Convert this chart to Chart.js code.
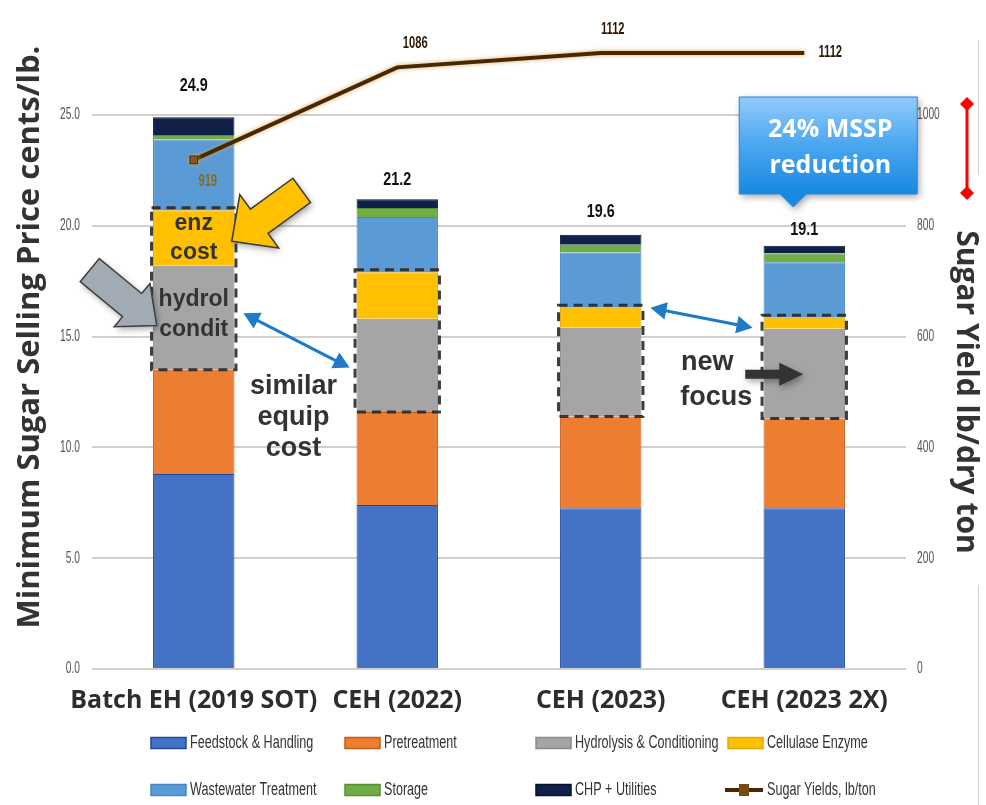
<!DOCTYPE html>
<html>
<head>
<meta charset="utf-8">
<script src="https://cdn.jsdelivr.net/npm/chart.js@4.4.1/dist/chart.umd.min.js"></script>
<style>
  html, body { margin: 0; padding: 0; background: #fff; }
  #wrap { position: relative; width: 986px; height: 805px; }
</style>
</head>
<body>
<div id="wrap"><canvas id="mssp" width="986" height="805"></canvas></div>
<script>
// cost breakdown, cents/lb sugar
const categories = ['Batch EH (2019 SOT)', 'CEH (2022)', 'CEH (2023)', 'CEH (2023 2X)'];
const feedstock = [8.8, 7.4, 7.25, 7.25];
const pretreatment = [4.7, 4.2, 4.15, 4.05];
const hydrolysis = [4.7, 4.2, 4.0, 4.05];
const enzyme = [2.5, 2.1, 0.9, 0.5];
const wastewater = [3.2, 2.5, 2.5, 2.5];
const storage = [0.2, 0.4, 0.35, 0.4];
const chp = [0.8, 0.4, 0.45, 0.35];
// sugar yield, lb/dry ton
const sugarYield = [919, 1086, 1112, 1112];

const SANS = "'Liberation Sans', Arial, sans-serif";
const OPEN = "'Open Sans', 'Liberation Sans', sans-serif";

const barSeries = [
  { label: 'Feedstock & Handling', data: feedstock, fill: '#4472c4', edge: '#23479a' },
  { label: 'Pretreatment', data: pretreatment, fill: '#ed7d31', edge: '#c65b16' },
  { label: 'Hydrolysis & Conditioning', data: hydrolysis, fill: '#a5a5a5', edge: '#8a8a8a' },
  { label: 'Cellulase Enzyme', data: enzyme, fill: '#ffc000', edge: '#e3a900' },
  { label: 'Wastewater Treatment', data: wastewater, fill: '#5b9bd5', edge: '#4485c2' },
  { label: 'Storage', data: storage, fill: '#70ad47', edge: '#559033' },
  { label: 'CHP + Utilities', data: chp, fill: '#0f2149', edge: '#06112b' }
];

const datasets = barSeries.map(s => ({
  type: 'bar',
  label: s.label,
  data: s.data,
  backgroundColor: s.fill,
  borderColor: s.edge,
  borderWidth: 1,
  yAxisID: 'y',
  stack: 'cost',
  order: 1,
  barPercentage: 0.8,
  categoryPercentage: 0.5
}));

datasets.push({
  type: 'line',
  label: 'Sugar Yields, lb/ton',
  data: sugarYield,
  yAxisID: 'y2',
  borderColor: '#4a2700',
  borderWidth: 4,
  pointStyle: 'rect',
  pointRadius: 5.5,
  pointBackgroundColor: '#7b4a10',
  pointBorderColor: '#4a2700',
  pointBorderWidth: 1,
  tension: 0,
  clip: false,
  order: 0
});

// narrow text: regular face squeezed horizontally
function narrowText(ctx, text, x, y, size, weight, color, align, sx) {
  ctx.save();
  ctx.font = (weight || 'normal') + ' ' + size + 'px ' + SANS;
  ctx.fillStyle = color;
  ctx.textBaseline = 'middle';
  ctx.textAlign = align || 'left';
  ctx.translate(x, y);
  ctx.scale(sx || 0.78, 1);
  ctx.fillText(text, 0, 0);
  ctx.restore();
}

function blockArrow(ctx, x1, y1, x2, y2, shaftW, headW, headL, fill, stroke) {
  const ang = Math.atan2(y2 - y1, x2 - x1);
  const len = Math.hypot(x2 - x1, y2 - y1);
  ctx.save();
  ctx.translate(x1, y1);
  ctx.rotate(ang);
  ctx.beginPath();
  ctx.moveTo(0, -shaftW / 2);
  ctx.lineTo(len - headL, -shaftW / 2);
  ctx.lineTo(len - headL, -headW / 2);
  ctx.lineTo(len, 0);
  ctx.lineTo(len - headL, headW / 2);
  ctx.lineTo(len - headL, shaftW / 2);
  ctx.lineTo(0, shaftW / 2);
  ctx.closePath();
  ctx.shadowColor = 'rgba(0,0,0,0.35)';
  ctx.shadowBlur = 6;
  ctx.shadowOffsetX = 2;
  ctx.shadowOffsetY = 3;
  ctx.fillStyle = fill;
  ctx.fill();
  ctx.shadowColor = 'transparent';
  if (stroke) {
    ctx.strokeStyle = stroke;
    ctx.lineWidth = 1.5;
    ctx.stroke();
  }
  ctx.restore();
}

function doubleArrow(ctx, x1, y1, x2, y2, color, head) {
  const ang = Math.atan2(y2 - y1, x2 - x1);
  const len = Math.hypot(x2 - x1, y2 - y1);
  ctx.save();
  ctx.translate(x1, y1);
  ctx.rotate(ang);
  ctx.strokeStyle = color;
  ctx.fillStyle = color;
  ctx.lineWidth = 3;
  ctx.beginPath();
  ctx.moveTo(head * 0.8, 0);
  ctx.lineTo(len - head * 0.8, 0);
  ctx.stroke();
  ctx.beginPath();
  ctx.moveTo(0, 0);
  ctx.lineTo(head, -head * 0.55);
  ctx.lineTo(head, head * 0.55);
  ctx.closePath();
  ctx.fill();
  ctx.beginPath();
  ctx.moveTo(len, 0);
  ctx.lineTo(len - head, -head * 0.55);
  ctx.lineTo(len - head, head * 0.55);
  ctx.closePath();
  ctx.fill();
  ctx.restore();
}

function diamond(ctx, x, y, r) {
  ctx.beginPath();
  ctx.moveTo(x, y - r);
  ctx.lineTo(x + r, y);
  ctx.lineTo(x, y + r);
  ctx.lineTo(x - r, y);
  ctx.closePath();
  ctx.fill();
}

const decor = {
  id: 'decor',
  beforeDatasetsDraw(chart) {
    const ctx = chart.ctx;
    // value-axis tick labels in a narrow face, placed by the scales
    const ys = chart.scales.y, y2s = chart.scales.y2;
    ys.ticks.forEach(t => {
      narrowText(ctx, t.value.toFixed(1), ys.right - 12, ys.getPixelForValue(t.value), 16, 'normal', '#555', 'right', 0.64);
    });
    y2s.ticks.forEach(t => {
      narrowText(ctx, String(t.value), y2s.left + 11, y2s.getPixelForValue(t.value), 16, 'normal', '#555', 'left', 0.64);
    });
  },
  beforeDatasetDraw(chart, args) {
    if (chart.data.datasets[args.index].type === 'line') {
      chart.ctx.save();
      chart.ctx.shadowColor = 'rgba(205,165,80,0.95)';
      chart.ctx.shadowBlur = 4;
    }
  },
  afterDatasetDraw(chart, args) {
    if (chart.data.datasets[args.index].type === 'line') chart.ctx.restore();
  },
  afterDatasetsDraw(chart) {
    const ctx = chart.ctx;
    const y = chart.scales.y;
    const hydroBars = chart.getDatasetMeta(2).data;
    const enzBars = chart.getDatasetMeta(3).data;
    const topBars = chart.getDatasetMeta(6).data;
    const linePts = chart.getDatasetMeta(7).data;

    // dashed outline round the enzyme + hydrolysis segments
    ctx.save();
    ctx.setLineDash([9, 6]);
    ctx.lineWidth = 3;
    ctx.strokeStyle = 'rgba(40,40,40,0.9)';
    hydroBars.forEach((b, i) => {
      const w = b.width / 2 + 1.5;
      const top = enzBars[i].y - 2.5;
      ctx.strokeRect(b.x - w, top, w * 2, b.base - top);
    });
    ctx.restore();

    // stack totals
    const lift = [31, 19, 23, 16];
    categories.forEach((c, i) => {
      let total = 0;
      chart.data.datasets.forEach(ds => { if (ds.type === 'bar') total += ds.data[i]; });
      total = Math.round(total * 10) / 10;
      narrowText(ctx, total.toFixed(1), topBars[i].x, topBars[i].y - lift[i], 18, 'bold', '#111', 'center', 0.8);
    });

    // yield point labels
    const lblOff = [[14, 22], [18, -24], [12, -23], [26, 0]];
    linePts.forEach((p, i) => {
      narrowText(ctx, String(sugarYield[i]), p.x + lblOff[i][0], p.y + lblOff[i][1], 16, 'bold',
        i === 0 ? '#8a6a18' : '#2d1a00', 'center', 0.7);
    });

    const b0 = hydroBars[0], b1 = hydroBars[1], b2 = hydroBars[2], b3 = hydroBars[3];

    // block arrows pointing at the first bar
    blockArrow(ctx, b0.x + 108, y.getPixelForValue(21.6), b0.x + 38, y.getPixelForValue(19.3), 30, 66, 34, '#ffc000', '#3a3a3a');
    blockArrow(ctx, b0.x - 104, y.getPixelForValue(18.0), b0.x - 37, y.getPixelForValue(15.5), 30, 56, 32, '#a2abb3', '#404040');

    // similar-cost links
    doubleArrow(ctx, b0.x + b0.width / 2 + 9, y.getPixelForValue(16.05), b1.x - b1.width / 2 - 7, y.getPixelForValue(13.6), '#1f7ac8', 16);
    doubleArrow(ctx, b2.x + b2.width / 2 + 9, y.getPixelForValue(16.3), b3.x - b3.width / 2 - 11, y.getPixelForValue(15.4), '#1f7ac8', 16);

    // focus arrow into the last bar
    blockArrow(ctx, b3.x - 59, y.getPixelForValue(13.3), b3.x - 1, y.getPixelForValue(13.3), 9, 23, 24, '#333333', null);

    // annotation text
    ctx.save();
    ctx.fillStyle = '#333';
    ctx.textAlign = 'center';
    ctx.textBaseline = 'middle';
    ctx.font = 'bold 23px ' + SANS;
    ctx.fillText('enz', b0.x, y.getPixelForValue(20.1));
    ctx.fillText('cost', b0.x, y.getPixelForValue(18.8));
    ctx.fillText('hydrol', b0.x, y.getPixelForValue(16.65));
    ctx.fillText('condit', b0.x, y.getPixelForValue(15.3));
    ctx.font = 'bold 27px ' + SANS;
    const midX = (b0.x + b1.x) / 2 - 2;
    ctx.fillText('similar', midX, y.getPixelForValue(12.75));
    ctx.fillText('equip', midX, y.getPixelForValue(11.35));
    ctx.fillText('cost', midX, y.getPixelForValue(9.95));
    ctx.fillText('new', b3.x - 97, y.getPixelForValue(13.85));
    ctx.fillText('focus', b3.x - 88, y.getPixelForValue(12.25));
    ctx.restore();

    // callout box
    const bx = b3.x - 65, by = 97, bw = 178, bh = 97;
    ctx.save();
    ctx.shadowColor = 'rgba(0,0,0,0.35)';
    ctx.shadowBlur = 7;
    ctx.shadowOffsetX = 2;
    ctx.shadowOffsetY = 3;
    const g = ctx.createLinearGradient(0, by, 0, by + bh);
    g.addColorStop(0, '#93cbfb');
    g.addColorStop(0.5, '#4aa6f0');
    g.addColorStop(1, '#1689e2');
    ctx.fillStyle = g;
    ctx.beginPath();
    ctx.moveTo(bx, by);
    ctx.lineTo(bx + bw, by);
    ctx.lineTo(bx + bw, by + bh);
    ctx.lineTo(b3.x + 2, by + bh);
    ctx.lineTo(b3.x - 11, by + bh + 13);
    ctx.lineTo(b3.x - 24, by + bh);
    ctx.lineTo(bx, by + bh);
    ctx.closePath();
    ctx.fill();
    ctx.shadowColor = 'transparent';
    ctx.strokeStyle = '#2b86d6';
    ctx.lineWidth = 1;
    ctx.stroke();
    ctx.fillStyle = '#fff';
    ctx.font = 'bold 25px ' + OPEN;
    ctx.textAlign = 'center';
    ctx.textBaseline = 'middle';
    ctx.fillText('24% MSSP', bx + bw / 2 + 2, by + 33);
    ctx.fillText('reduction', bx + bw / 2 + 2, by + 69);
    ctx.restore();

    // red range marker on the right
    ctx.save();
    ctx.strokeStyle = '#ff0000';
    ctx.fillStyle = '#ff0000';
    ctx.lineWidth = 3;
    ctx.beginPath();
    ctx.moveTo(967, 104);
    ctx.lineTo(967, 193);
    ctx.stroke();
    diamond(ctx, 967, 104, 7);
    diamond(ctx, 967, 193, 7);
    ctx.restore();
  },
  afterDraw(chart) {
    const ctx = chart.ctx;
    const area = chart.chartArea;

    // left axis title
    ctx.save();
    ctx.translate(30, (area.top + area.bottom) / 2 - 55);
    ctx.rotate(-Math.PI / 2);
    ctx.font = 'bold 31px ' + OPEN;
    ctx.fillStyle = '#333';
    ctx.textAlign = 'center';
    ctx.textBaseline = 'middle';
    ctx.fillText('Minimum Sugar Selling Price cents/lb.', 0, 0);
    ctx.restore();

    // page edge
    ctx.save();
    ctx.strokeStyle = '#d4d4d4';
    ctx.lineWidth = 1;
    ctx.beginPath();
    ctx.moveTo(978.5, 40);
    ctx.lineTo(978.5, 175);
    ctx.moveTo(978.5, 585);
    ctx.lineTo(978.5, 805);
    ctx.stroke();
    ctx.restore();

    // legend, four columns by two rows
    const cols = [151, 345, 536, 728];
    const rows = [743, 790];
    chart.data.datasets.forEach((ds, i) => {
      const x = cols[i % 4], yy = rows[Math.floor(i / 4)];
      ctx.save();
      if (ds.type === 'bar') {
        ctx.fillStyle = ds.backgroundColor;
        ctx.fillRect(x, yy - 5.5, 35, 11);
        ctx.strokeStyle = ds.borderColor;
        ctx.lineWidth = 1.5;
        ctx.strokeRect(x, yy - 5.5, 35, 11);
      } else {
        ctx.strokeStyle = ds.borderColor;
        ctx.lineWidth = 4;
        ctx.beginPath();
        ctx.moveTo(x - 3, yy);
        ctx.lineTo(x + 35, yy);
        ctx.stroke();
        ctx.fillStyle = ds.pointBackgroundColor;
        ctx.fillRect(x + 11, yy - 6, 10, 12);
      }
      ctx.restore();
      narrowText(ctx, ds.label, x + 39, yy, 18, 'normal', '#333', 'left', 0.7);
    });
  }
};

new Chart(document.getElementById('mssp'), {
  data: { labels: categories, datasets },
  plugins: [decor],
  options: {
    responsive: false,
    animation: false,
    layout: { padding: { top: 115, bottom: 86, left: 0, right: 0 } },
    plugins: {
      legend: { display: false },
      tooltip: { enabled: false }
    },
    scales: {
      x: {
        stacked: true,
        grid: { display: false, drawTicks: false },
        border: { display: false },
        ticks: {
          padding: 17,
          maxRotation: 0,
          minRotation: 0,
          autoSkip: false,
          color: '#2d2d2d',
          font: { family: OPEN, size: 25, weight: 'bold' }
        },
        afterFit(scale) { scale.height = 50; }
      },
      y: {
        stacked: true,
        position: 'left',
        min: 0,
        max: 25,
        grid: { color: '#cfcfcf', lineWidth: 2, drawTicks: false },
        border: { display: false },
        ticks: {
          stepSize: 5,
          padding: 12,
          color: 'rgba(0,0,0,0)',
          callback: v => v.toFixed(1)
        },
        afterFit(scale) { scale.width = 92; }
      },
      y2: {
        position: 'right',
        min: 0,
        max: 1000,
        grid: { display: false, drawTicks: false },
        border: { display: false },
        ticks: {
          stepSize: 200,
          padding: 11,
          color: 'rgba(0,0,0,0)',
          callback: v => String(v)
        },
        title: {
          display: true,
          text: 'Sugar Yield lb/dry ton',
          color: '#333',
          font: { family: OPEN, size: 30, weight: 'bold' },
          padding: { top: 2, bottom: 0 }
        },
        afterFit(scale) { scale.width = 80; }
      }
    }
  }
});
</script>
</body>
</html>
